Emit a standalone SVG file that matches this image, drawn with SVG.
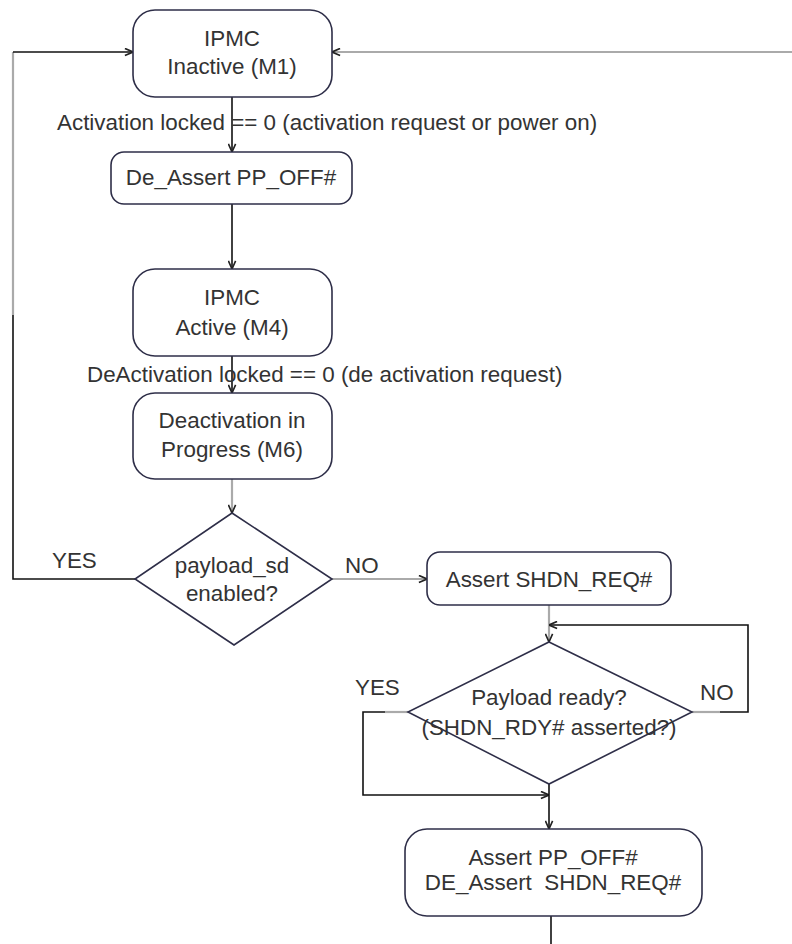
<svg xmlns="http://www.w3.org/2000/svg" width="792" height="944" viewBox="0 0 792 944">
<defs>
<style>
.box{fill:#fff;stroke:#2e2e48;stroke-width:1.6}
.t{font-family:"Liberation Sans",Arial,sans-serif;font-size:22.4px;fill:#333;text-anchor:middle}
.tl{font-family:"Liberation Sans",Arial,sans-serif;font-size:22.4px;fill:#333}
.c{fill:none;stroke:#111;stroke-width:1.6}
.g{fill:none;stroke:#aaa;stroke-width:2.2}
</style>
<marker id="ah" viewBox="0 0 10 10" refX="10" refY="5" markerWidth="9" markerHeight="9" markerUnits="userSpaceOnUse" orient="auto">
<path d="M1,1 L10,5 L1,9" fill="none" stroke="#222" stroke-width="1.8"/>
</marker>
</defs>
<rect width="792" height="944" fill="#fff"/>
<g id="connectors">
<line class="c" x1="232" y1="97" x2="232" y2="152" marker-end="url(#ah)"/>
<line class="c" x1="232" y1="204" x2="232" y2="269" marker-end="url(#ah)"/>
<line class="c" x1="232" y1="356" x2="232" y2="393" marker-end="url(#ah)"/>
<line class="g" x1="232" y1="479" x2="232" y2="513" marker-end="url(#ah)"/>
<path class="c" d="M136,579 H13 V315"/>
<path class="g" d="M13,315 V52"/>
<line class="c" x1="13" y1="52" x2="133" y2="52" marker-end="url(#ah)"/>
<line class="g" x1="792" y1="52" x2="332" y2="52" marker-end="url(#ah)"/>
<line class="g" x1="332" y1="579" x2="427" y2="579" marker-end="url(#ah)"/>
<line class="g" x1="549" y1="605" x2="549" y2="642" marker-end="url(#ah)"/>
<path class="g" d="M692,712 H720"/>
<path class="c" d="M720,712 H748 V625 H549" marker-end="url(#ah)"/>
<path class="g" d="M408,712 H385"/>
<path class="c" d="M385,712 H363 V795 H549" marker-end="url(#ah)"/>
<line class="c" x1="549" y1="784" x2="549" y2="829" marker-end="url(#ah)"/>
<line class="c" x1="551" y1="916" x2="551" y2="944"/>
</g>
<g id="n-inactive">
<rect class="box" x="133" y="10" width="199" height="87" rx="22"/>
<text class="t" x="232" y="46">IPMC</text>
<text class="t" x="232" y="74">Inactive (M1)</text>
</g>
<g id="l-activation">
<text class="tl" x="57" y="130">Activation locked == 0 (activation request or power on)</text>
</g>
<g id="n-deassert">
<rect class="box" x="111" y="152" width="241" height="52" rx="13"/>
<text class="t" x="231" y="185">De_Assert PP_OFF#</text>
</g>
<g id="n-active">
<rect class="box" x="133" y="269" width="199" height="87" rx="22"/>
<text class="t" x="232" y="305">IPMC</text>
<text class="t" x="232" y="335">Active (M4)</text>
</g>
<g id="l-deactivation">
<text class="tl" x="87" y="382">DeActivation locked == 0 (de activation request)</text>
</g>
<g id="n-deactivation">
<rect class="box" x="133" y="393" width="199" height="86" rx="22"/>
<text class="t" x="232" y="428">Deactivation in</text>
<text class="t" x="232" y="457">Progress (M6)</text>
</g>
<g id="n-payload-sd">
<polygon class="box" points="232,513 332,579 234,645 135,579"/>
<text class="t" x="232" y="573">payload_sd</text>
<text class="t" x="232" y="601">enabled?</text>
<text class="tl" x="52" y="568">YES</text>
<text class="tl" x="345" y="573">NO</text>
</g>
<g id="n-assert-shdn">
<rect class="box" x="427" y="552" width="244" height="53" rx="13"/>
<text class="t" x="549" y="587">Assert SHDN_REQ#</text>
</g>
<g id="n-payload-ready">
<polygon class="box" points="549,642 692,712 549,784 408,712"/>
<text class="t" x="549" y="705">Payload ready?</text>
<text class="t" x="549" y="735">(SHDN_RDY# asserted?)</text>
<text class="tl" x="355" y="695">YES</text>
<text class="tl" x="700" y="700">NO</text>
</g>
<g id="n-assert-ppoff">
<rect class="box" x="405" y="829" width="297" height="87" rx="22"/>
<text class="t" x="553" y="865">Assert PP_OFF#</text>
<text class="t" x="553" y="890" xml:space="preserve">DE_Assert  SHDN_REQ#</text>
</g>
</svg>
